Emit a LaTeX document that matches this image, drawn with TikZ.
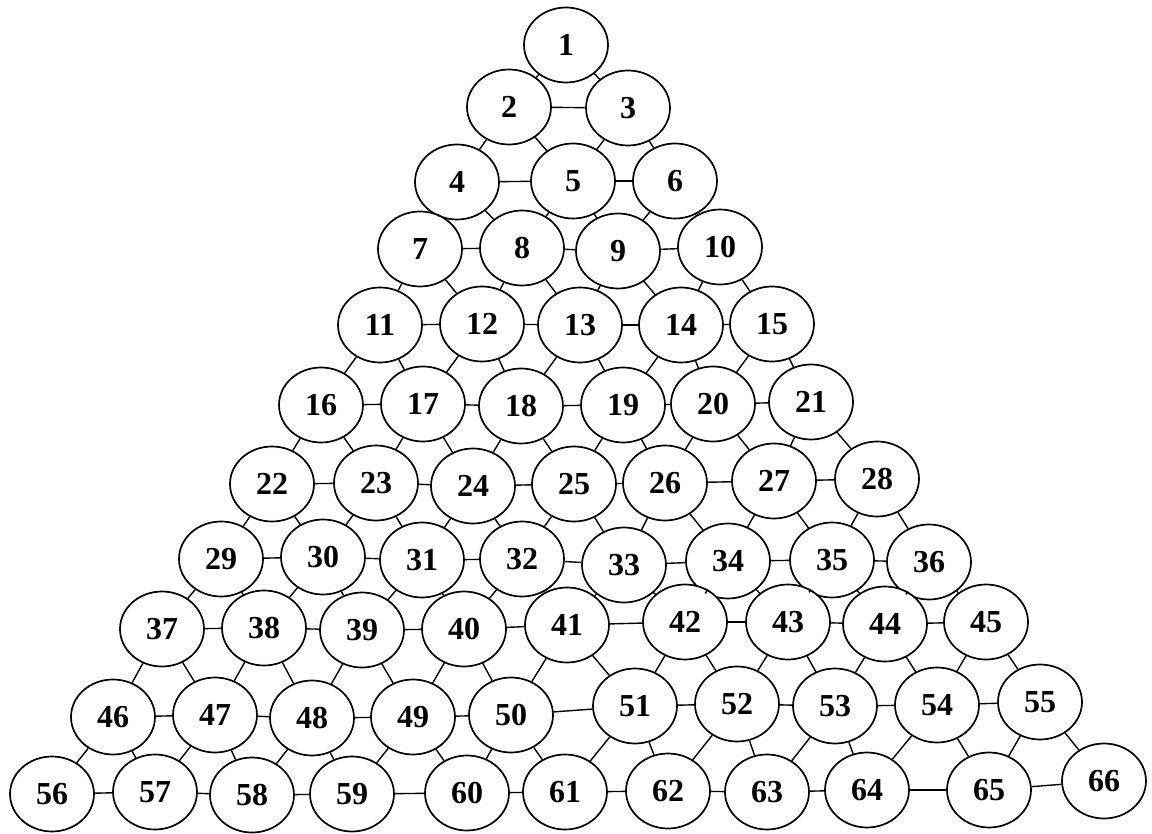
\documentclass[tikz,border=0pt]{standalone}
\usepackage{fontspec}
\setmainfont{Liberation Serif}
\usetikzlibrary{shapes.geometric}
\tikzset{
  cell/.style={ellipse,draw,line width=1.7pt,minimum width=84pt,minimum height=75pt,inner sep=0pt,fill=white,font=\fontsize{32}{32}\selectfont\bfseries},
  link/.style={line width=1.4pt}
}
\begin{document}
\begin{tikzpicture}[x=1pt,y=-1pt]
\useasboundingbox (0,0) rectangle (1152,834);
\foreach \k/\x/\y in {
 1/566/45,
 2/509/107, 3/628/108,
 4/457/182, 5/573/181, 6/675/181,
 7/420/249, 8/522/248, 9/618/251, 10/720/247,
 11/380/325, 12/482/324, 13/580/325, 14/681/325, 15/772/324,
 16/321/405, 17/423/404, 18/521/406, 19/623/405, 20/713/404, 21/811/402,
 22/272/484, 23/376/483, 24/473/486, 25/574/484, 26/665/483, 27/774/481, 28/877/479,
 29/221/559, 30/323/557, 31/422/560, 32/522/559, 33/624/565, 34/728/561, 35/832/560, 36/929/562,
 37/162/629, 38/264/628, 39/362/630, 40/464/629, 41/567/625, 42/685/622, 43/788/622, 44/885/624, 45/986/622,
 46/113/717, 47/215/715, 48/312/718, 49/413/717, 50/511/715, 51/635/706, 52/737/704, 53/835/706, 54/937/705, 55/1040/702,
 56/52/794, 57/155/792, 58/252/795, 59/352/794, 60/467/793, 61/565/792, 62/668/791, 63/767/792, 64/867/790, 65/989/790, 66/1104/781}
 \node[cell] (n\k) at (\x,\y) {\k};
\foreach \row in {1,...,11}{
  \foreach \i in {1,...,\row}{
    \pgfmathtruncatemacro\k{\row*(\row-1)/2+\i}
    \pgfmathtruncatemacro\kr{\k+1}
    \pgfmathtruncatemacro\kd{\k+\row}
    \pgfmathtruncatemacro\ke{\k+\row+1}
    \ifnum\i<\row \draw[link] (n\k) -- (n\kr); \fi
    \ifnum\row<11 \draw[link] (n\k) -- (n\kd); \draw[link] (n\k) -- (n\ke); \fi
  }
}
\end{tikzpicture}
\end{document}
